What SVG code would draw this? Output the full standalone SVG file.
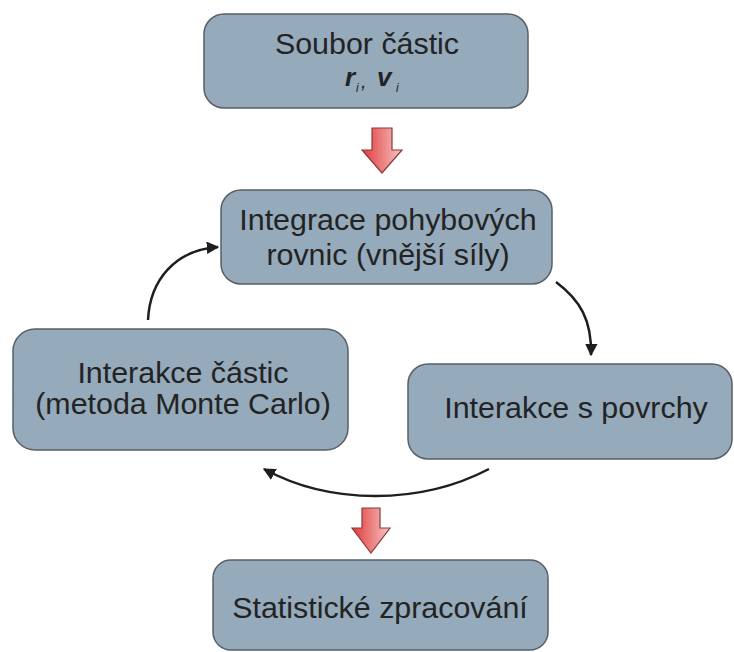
<svg xmlns="http://www.w3.org/2000/svg" width="734" height="652" viewBox="0 0 734 652">
<style>
.box{fill:#95aabb;stroke:#5a5f66;stroke-width:1.5}
.t{font-family:"Liberation Sans",Arial,sans-serif;font-size:30.4px;fill:#232323;text-anchor:middle}
.m{font-family:"Liberation Sans",Arial,sans-serif;fill:#232323;font-style:italic}
.conn{fill:none;stroke:#1e1e1e;stroke-width:2.5}
.big{stroke:#8a3a3a;stroke-width:1.2;fill:url(#rg)}
</style>
<defs>
<linearGradient id="rg" x1="0" y1="0" x2="1" y2="0">
<stop offset="0" stop-color="#e23a3a"/>
<stop offset="1" stop-color="#f6c4c4"/>
</linearGradient>
<marker id="ah" viewBox="0 0 10 10" refX="9" refY="5" markerWidth="5" markerHeight="5" orient="auto" markerUnits="strokeWidth">
<path d="M0,0 L10,5 L0,10 z" fill="#1e1e1e"/>
</marker>
</defs>
<g id="n1">
<rect class="box" x="204" y="14" width="324" height="94" rx="20"/>
<text class="t" x="367" y="54">Soubor částic</text>
<text class="m" x="345" y="86" font-size="26" font-weight="bold">r</text>
<text class="m" x="356" y="92" font-size="12">i</text>
<text class="m" x="361" y="88" font-size="20">,</text>
<text class="m" x="377" y="86" font-size="26" font-weight="bold">v</text>
<text class="m" x="396" y="92" font-size="12">i</text>
</g>
<g id="n2">
<rect class="box" x="221" y="190" width="331" height="94" rx="20"/>
<text class="t" x="388" y="230">Integrace pohybových</text>
<text class="t" x="388" y="265">rovnic (vnější síly)</text>
</g>
<g id="n3">
<rect class="box" x="13" y="329" width="335" height="121" rx="22"/>
<text class="t" x="183" y="383">Interakce částic</text>
<text class="t" x="183" y="414">(metoda Monte Carlo)</text>
</g>
<g id="n4">
<rect class="box" x="408" y="364" width="324" height="95" rx="20"/>
<text class="t" x="576" y="418">Interakce s povrchy</text>
</g>
<g id="n5">
<rect class="box" x="213" y="560" width="335" height="90" rx="18"/>
<text class="t" x="380" y="618">Statistické zpracování</text>
</g>
<g id="connectors">
<path class="big" d="M372,128 L392,128 L392,150 L402,150 L382,173 L362,150 L372,150 Z"/>
<path class="big" d="M362,508 L380,508 L380,528 L390,528 L371,553 L352,528 L362,528 Z"/>
<path class="conn" marker-end="url(#ah)" d="M148,320 C150,280 175,250 218,247"/>
<path class="conn" marker-end="url(#ah)" d="M556,282 C580,300 592,320 591,355"/>
<path class="conn" marker-end="url(#ah)" d="M489,469 C420,505 330,505 264,469"/>
</g>
</svg>
